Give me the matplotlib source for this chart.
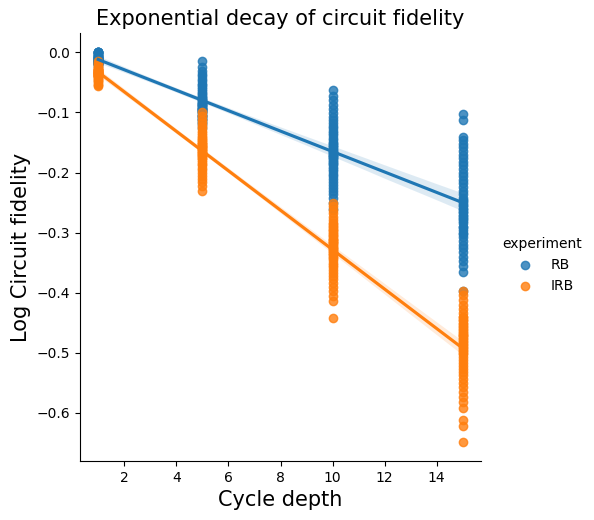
import matplotlib
matplotlib.use("Agg")
import matplotlib.pyplot as plt
import seaborn as sns
import pandas as pd

depths = [1, 5, 10, 15]
experiments = ["RB", "IRB"]

rb_1 = [0, 0, 0, 0, 0, 0, -0.001, -0.002, -0.003, -0.004, -0.005, -0.006, -0.007, -0.008,
        -0.009, -0.010, -0.011, -0.012, -0.013, -0.014, -0.015, -0.016, -0.017, -0.018, -0.019,
        -0.020, -0.022, -0.008, -0.010, -0.012, -0.014, -0.016, -0.018, -0.006, -0.011, -0.013,
        -0.015, -0.009, -0.017, -0.020]
rb_5 = [-0.014, -0.024, -0.031, -0.036, -0.040, -0.044, -0.048, -0.052, -0.055, -0.058,
        -0.061, -0.064, -0.067, -0.070, -0.072, -0.074, -0.076, -0.078, -0.080, -0.082,
        -0.084, -0.086, -0.088, -0.090, -0.092, -0.094, -0.096, -0.098, -0.100, -0.102,
        -0.104, -0.106, -0.108, -0.110, -0.112, -0.115, -0.118, -0.121, -0.125, -0.085,
        -0.088, -0.092, -0.095, -0.080, -0.090, -0.100, -0.105, -0.095, -0.098, -0.110]
rb_10 = [-0.063, -0.072, -0.080, -0.088, -0.095, -0.101, -0.107, -0.112, -0.117, -0.122,
         -0.126, -0.130, -0.134, -0.138, -0.142, -0.146, -0.150, -0.154, -0.158, -0.162,
         -0.166, -0.170, -0.174, -0.178, -0.182, -0.186, -0.190, -0.194, -0.198, -0.202,
         -0.206, -0.210, -0.215, -0.220, -0.225, -0.230, -0.236, -0.242, -0.250, -0.260,
         -0.150, -0.160, -0.165, -0.170, -0.175, -0.180, -0.185, -0.155, -0.168, -0.172]
rb_15 = [-0.102, -0.112, -0.140, -0.146, -0.152, -0.158, -0.164, -0.170, -0.176, -0.182,
         -0.188, -0.194, -0.200, -0.206, -0.212, -0.218, -0.224, -0.230, -0.236, -0.242,
         -0.248, -0.254, -0.260, -0.266, -0.272, -0.278, -0.284, -0.290, -0.296, -0.302,
         -0.308, -0.314, -0.320, -0.326, -0.332, -0.340, -0.348, -0.356, -0.365, -0.398,
         -0.280, -0.290, -0.250, -0.260, -0.270, -0.245, -0.255, -0.265, -0.300, -0.275]
irb_1 = [-0.015, -0.018, -0.020, -0.022, -0.024, -0.026, -0.027, -0.028, -0.029, -0.030,
         -0.031, -0.032, -0.033, -0.034, -0.035, -0.036, -0.037, -0.038, -0.039, -0.040,
         -0.041, -0.042, -0.044, -0.046, -0.048, -0.050, -0.052, -0.054, -0.056, -0.030,
         -0.032, -0.034, -0.036, -0.038, -0.033, -0.035, -0.037, -0.031, -0.029, -0.040]
irb_5 = [-0.100, -0.106, -0.112, -0.117, -0.122, -0.126, -0.130, -0.134, -0.137, -0.140,
         -0.143, -0.146, -0.149, -0.152, -0.155, -0.158, -0.161, -0.164, -0.167, -0.170,
         -0.173, -0.176, -0.179, -0.182, -0.185, -0.188, -0.192, -0.196, -0.200, -0.205,
         -0.210, -0.216, -0.222, -0.230, -0.150, -0.155, -0.160, -0.165, -0.170, -0.158,
         -0.162, -0.168, -0.145, -0.175, -0.152]
irb_10 = [-0.250, -0.256, -0.262, -0.268, -0.274, -0.279, -0.284, -0.289, -0.294, -0.298,
          -0.302, -0.306, -0.310, -0.314, -0.318, -0.322, -0.326, -0.330, -0.334, -0.338,
          -0.342, -0.346, -0.350, -0.354, -0.358, -0.362, -0.367, -0.372, -0.378, -0.384,
          -0.390, -0.397, -0.405, -0.414, -0.442, -0.310, -0.315, -0.320, -0.325, -0.330,
          -0.335, -0.340, -0.305, -0.300, -0.295, -0.312, -0.318, -0.328, -0.290, -0.285]
irb_15 = [-0.398, -0.404, -0.412, -0.420, -0.427, -0.434, -0.440, -0.446, -0.452, -0.458,
          -0.463, -0.468, -0.473, -0.478, -0.483, -0.488, -0.493, -0.498, -0.503, -0.508,
          -0.513, -0.518, -0.523, -0.528, -0.533, -0.538, -0.544, -0.550, -0.557, -0.565,
          -0.573, -0.582, -0.592, -0.612, -0.622, -0.648, -0.470, -0.475, -0.480, -0.485,
          -0.490, -0.495, -0.500, -0.460, -0.465, -0.450, -0.445, -0.455, -0.440, -0.470]

series = {
    ("RB", 1): rb_1, ("RB", 5): rb_5, ("RB", 10): rb_10, ("RB", 15): rb_15,
    ("IRB", 1): irb_1, ("IRB", 5): irb_5, ("IRB", 10): irb_10, ("IRB", 15): irb_15,
}
rows = []
for exp in experiments:
    for d in depths:
        for v in series[(exp, d)]:
            rows.append({"Cycle depth": d, "Log Circuit fidelity": v, "experiment": exp})
df = pd.DataFrame(rows)

g = sns.lmplot(data=df, x="Cycle depth", y="Log Circuit fidelity", hue="experiment",
               hue_order=experiments, height=5, seed=0)
fig = g.figure
fig.set_size_inches(5.94, 5.2)
ax = g.ax
ax.set_position([80 / 594, 1 - 461 / 520, 401 / 594, 428 / 520])
ax.set_title("Exponential decay of circuit fidelity", fontsize=15)
ax.set_xlabel("Cycle depth", fontsize=15)
ax.set_ylabel("Log Circuit fidelity", fontsize=15)
ax.set_xticks([2, 4, 6, 8, 10, 12, 14])
leg = g.legend
leg.set_bbox_to_anchor((490 / 594, 255 / 520), transform=fig.transFigure)
leg.set_loc("center left")
fig.savefig("out.png", dpi=100)
